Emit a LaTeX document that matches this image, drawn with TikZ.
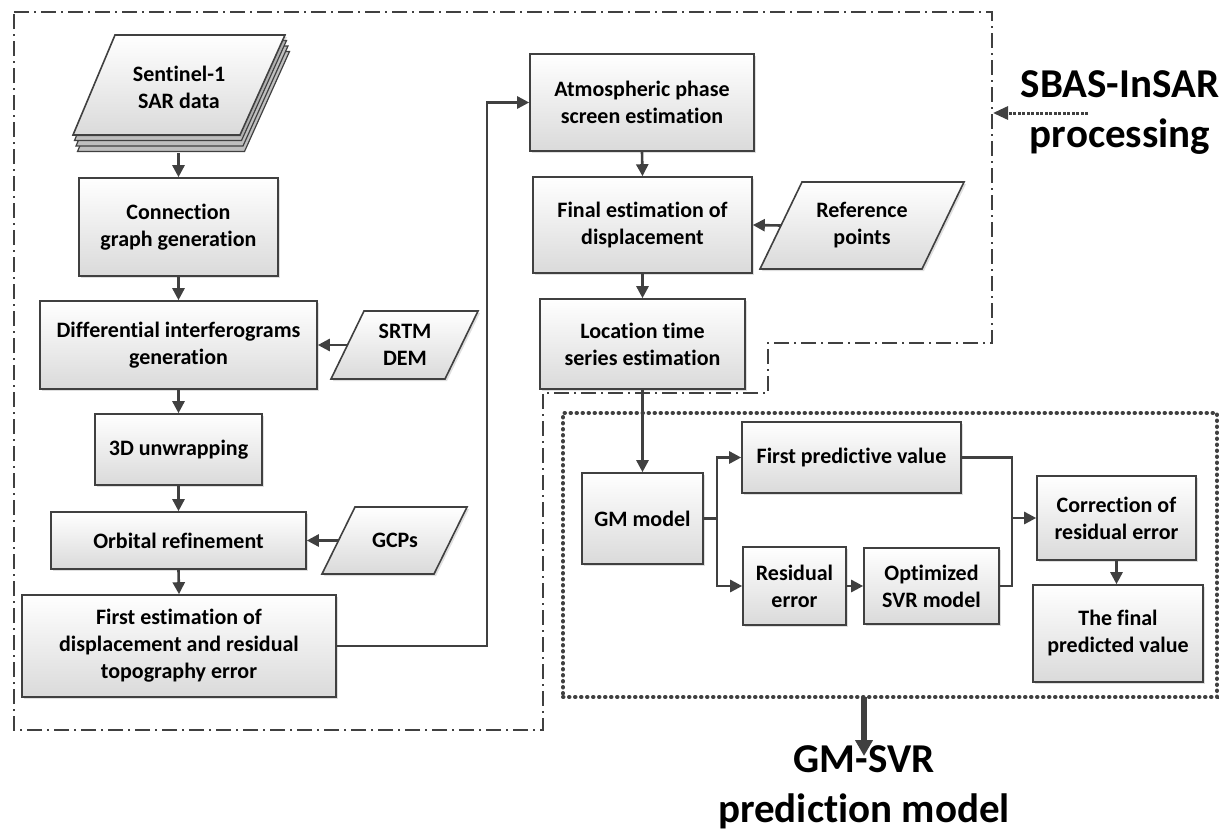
\documentclass[tikz,border=0pt]{standalone}
\usepackage{fontspec}
\setmainfont{Carlito}[Ligatures=NoCommon]
\usetikzlibrary{arrows.meta,shadows,calc}
\definecolor{linec}{HTML}{404040}
\definecolor{boxbot}{HTML}{DADADA}
\newcommand\boxfont{\fontsize{22}{27}\selectfont\bfseries}
\newcommand\bigfont{\fontsize{41}{50}\selectfont\bfseries}
\tikzset{
 shadowed/.style={drop shadow={shadow xshift=2pt,shadow yshift=-2pt,opacity=0.25}},
 box/.style={draw=linec, line width=1.6pt, top color=white, bottom color=boxbot, shadowed, align=center, font=\boxfont, inner sep=0pt},
 para/.style={draw=linec, line width=1.6pt, top color=white, bottom color=boxbot, shadowed},
 layer/.style={draw=linec, line width=1.2pt, fill=gray!50},
 ptext/.style={align=center, font=\boxfont, inner sep=0pt},
 arr/.style={draw=linec, line width=2.6pt, -{Triangle[length=12pt,width=12pt]}},
 conn/.style={draw=linec, line width=2.6pt},
 dashdotline/.style={draw=linec, line width=2.6pt, dash pattern=on 15pt off 5pt on 2pt off 5pt},
 dotbox/.style={draw=linec, line width=4pt, line cap=round, dash pattern=on 0.5pt off 5.5pt, inner sep=0pt},
 bigtext/.style={font=\bigfont, inner sep=0pt, text=black},
}
\begin{document}
\begin{tikzpicture}[x=1pt,y=-1pt]
\useasboundingbox (0,0) rectangle (1226,830);
% containers
\draw[dashdotline] (14,12) -- (992,12) -- (992,343) -- (768,343) -- (768,393) -- (543,393) -- (543,730) -- (14,730) -- cycle;
\node[dotbox, minimum width=654pt, minimum height=284pt] (gmbox) at (890,555) {};

% Sentinel stack
\foreach \i in {3,2,1}
  \path[layer, shift={(1.5*\i,5.5*\i)}] (115,35) -- (285,35) -- (240,135) -- (73,135) -- cycle;
\path[para] (115,35) -- (285,35) -- (240,135) -- (73,135) -- cycle;
\node[ptext] (sent) at (179,87) {Sentinel-1\\SAR data};
\coordinate (sentB) at (178.5,153);

% left column
\node[box, minimum width=199pt, minimum height=98pt] (cg) at (178.5,227) {Connection\\graph generation};
\node[box, minimum width=277pt, minimum height=88pt] (diff) at (178.5,345) {Differential interferograms\\generation};
\node[box, minimum width=167pt, minimum height=71pt] (unw) at (178.5,449.5) {3D unwrapping};
\node[box, minimum width=255pt, minimum height=57pt] (orb) at (178.5,540.5) {Orbital refinement};
\node[box, minimum width=314pt, minimum height=102pt] (fe) at (179,646) {First estimation of\\displacement and residual\\topography error};

% SRTM
\path[para] (364,311) -- (478,311) -- (445,379) -- (331,379) -- cycle;
\node[ptext] (srtm) at (405,345) {SRTM\\DEM};
\coordinate (srtmL) at (347.5,345);
% GCPs
\path[para] (355,507) -- (467,507) -- (434,574) -- (322,574) -- cycle;
\node[ptext] (gcps) at (395,540.5) {GCPs};
\coordinate (gcpsL) at (338.5,540.5);

% middle column
\node[box, minimum width=224pt, minimum height=97pt] (atm) at (642,102.5) {Atmospheric phase\\screen estimation};
\node[box, minimum width=219pt, minimum height=96pt] (fin) at (642.5,225) {Final estimation of\\displacement};
\node[box, minimum width=205pt, minimum height=90pt] (loc) at (642.5,344) {Location time\\series estimation};

% Reference points
\path[para] (802,182) -- (964,182) -- (922,269) -- (760,269) -- cycle;
\node[ptext] (ref) at (862,225.5) {Reference\\points};
\coordinate (refL) at (781,225.5);

% GM-SVR part
\node[box, minimum width=121pt, minimum height=91pt] (gm) at (642.5,518.5) {GM model};
\node[box, minimum width=219pt, minimum height=71pt] (fpv) at (851.5,457.5) {First predictive value};
\node[box, minimum width=103pt, minimum height=78pt] (res) at (794.5,586) {Residual\\error};
\node[box, minimum width=135pt, minimum height=76pt] (svr) at (931.5,586) {Optimized\\SVR model};
\node[box, minimum width=159pt, minimum height=84pt] (corr) at (1116.5,518) {Correction of\\residual error};
\node[box, minimum width=170pt, minimum height=97pt] (fpred) at (1118,633.5) {The final\\predicted value};

% connectors left
\draw[arr] (sentB) -- (cg.north);
\draw[arr] (cg.south) -- (diff.north);
\draw[arr] (diff.south) -- (unw.north);
\draw[arr] (unw.south) -- (orb.north);
\draw[arr] (orb.south) -- (fe.north);
\draw[arr] (srtmL) -- (diff.east);
\draw[arr] (gcpsL) -- (orb.east);
\draw[arr] (fe.east) -- (487,646) |- (atm.west);
\draw[arr] (atm.south) -- (fin.north);
\draw[arr] (fin.south) -- (loc.north);
\draw[arr] (refL) -- (fin.east);
\draw[arr] (loc.south) -- (gm.north);

% GM branches
\coordinate (br) at (717,518.5);
\draw[conn] (gm.east) -- (br);
\draw[arr] (br) |- (fpv.west);
\draw[arr] (br) |- (res.west);
\draw[arr] (res.east) -- (svr.west);
\coordinate (mg) at (1012,518);
\draw[conn] (fpv.east) -| (mg);
\draw[conn] (svr.east) -| (mg);
\draw[arr] (mg) -- (corr.west);
\draw[arr] (corr.south) -- (corr.south |- fpred.north);

% labels
\node[bigtext, anchor=base] (sbas1) at (1120,97) {SBAS-InSAR};
\node[bigtext, anchor=base] (sbas2) at (1120,147) {processing};
\coordinate (sbasA) at (1088,113);
\coordinate (sbasB) at (993,113);
\draw[draw=linec, line width=3pt, dash pattern=on 3pt off 1.5pt, -{Triangle[length=15pt,width=13pt]}] (sbasA) -- (sbasB);

\node[bigtext, anchor=base] (gms1) at (864,772) {GM-SVR};
\node[bigtext, anchor=base] (gms2) at (864,822) {prediction model};
\coordinate (gmA) at (864,697);
\coordinate (gmB) at (864,756);
\draw[draw=linec, line width=5.5pt, -{Triangle[length=16pt,width=17pt]}] (gmA) -- (gmB);
\end{tikzpicture}
\end{document}
